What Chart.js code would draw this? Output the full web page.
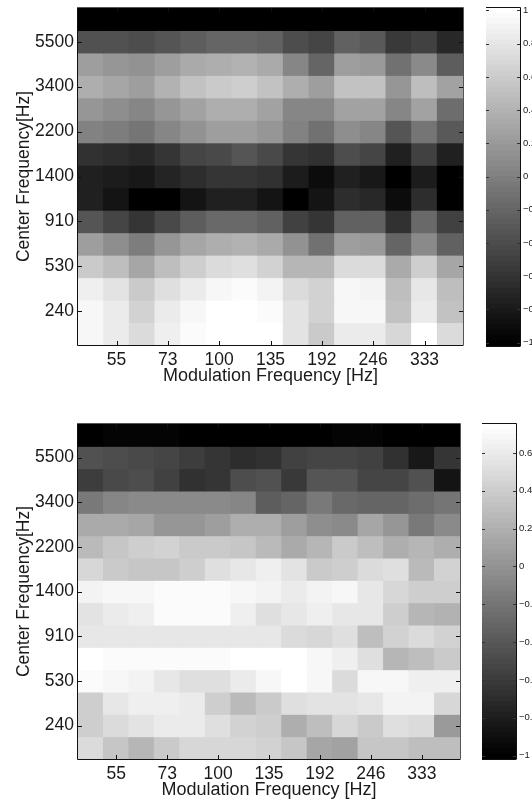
<!DOCTYPE html>
<html>
<head>
<meta charset="utf-8">
<script src="https://cdn.jsdelivr.net/npm/chart.js@4"></script>
<style>
    html, body { margin: 0; padding: 0; background: #fff; overflow: hidden; }
    body { position: relative; width: 532px; height: 799px; }
    canvas { position: absolute; }
</style>
</head>
<body>
<canvas id="topMap" width="480" height="400" style="left:0;top:0"></canvas>
<canvas id="topBar" width="46" height="400" style="left:486px;top:0"></canvas>
<canvas id="bottomMap" width="480" height="401" style="left:0;top:400px"></canvas>
<canvas id="bottomBar" width="50" height="401" style="left:482px;top:400px"></canvas>
<script>
// Modulation frequency labels (one column in two is labelled)
const modLabels = ['', '55', '', '73', '', '100', '', '135', '', '192', '', '246', '', '333', ''];
// Center frequency labels, top to bottom (one row in two is labelled)
const centerLabels = ['', '5500', '', '3400', '', '2200', '', '1400', '', '910', '', '530', '', '240', ''];

const topValues = [
    [-1, -1, -1, -1, -1, -1, -1, -1, -1, -1, -1, -1, -1, -1, -1],
    [-.37, -.37, -.39, -.33, -.28, -.20, -.20, -.23, -.39, -.45, -.25, -.29, -.55, -.47, -.67],
    [.22, .18, .14, .22, .33, .35, .40, .33, .06, -.20, .22, .19, -.10, .08, -.28],
    [.35, .29, .24, .40, .51, .57, .60, .53, .37, .24, .53, .53, .18, .49, .25],
    [.18, .10, .06, .18, .27, .35, .35, .27, .06, .04, .27, .27, .06, .25, -.14],
    [.02, -.02, -.07, .04, .14, .22, .22, .18, .02, -.10, .10, .06, -.33, -.07, -.31],
    [-.61, -.65, -.67, -.57, -.45, -.41, -.33, -.41, -.59, -.61, -.39, -.45, -.75, -.47, -.72],
    [-.73, -.76, -.80, -.70, -.65, -.59, -.57, -.61, -.78, -.89, -.75, -.81, -.98, -.76, -.98],
    [-.75, -.83, -1, -.98, -.83, -.75, -.75, -.83, -1, -.83, -.65, -.67, -.89, -.64, -1],
    [-.33, -.44, -.57, -.41, -.28, -.18, -.18, -.25, -.47, -.57, -.22, -.23, -.62, -.18, -.47],
    [.22, .10, -.02, .16, .29, .35, .40, .32, .14, -.10, .22, .19, -.20, .08, -.25],
    [.57, .49, .29, .49, .61, .69, .73, .65, .43, .41, .69, .69, .33, .61, .29],
    [.87, .76, .57, .74, .82, .92, .94, .88, .69, .63, .92, .88, .47, .79, .49],
    [.91, .82, .65, .82, .92, 1, 1, .95, .77, .63, .91, .91, .53, .84, .53],
    [.91, .82, .69, .87, .96, 1, 1, 1, .77, .57, .82, .82, .68, 1, .69]
];

const bottomValues = [
    [-1, -.97, -.97, -.97, -1, -1, -1, -1, -1, -1, -.97, -.95, -1, -.98, -1],
    [-.45, -.46, -.49, -.51, -.57, -.64, -.69, -.66, -.56, -.52, -.53, -.55, -.67, -.81, -.62],
    [-.57, -.49, -.46, -.56, -.66, -.62, -.48, -.44, -.59, -.42, -.40, -.53, -.53, -.44, -.84],
    [-.16, -.09, -.07, -.07, -.07, -.07, -.09, -.35, -.30, -.16, -.28, -.31, -.29, -.25, -.19],
    [.15, .15, .13, .03, .02, .08, .18, .18, .08, -.03, -.07, .13, .03, -.16, -.07],
    [.27, .36, .41, .43, .39, .39, .34, .27, .15, .25, .37, .30, .18, .24, .18],
    [.45, .39, .36, .36, .41, .51, .56, .62, .55, .37, .40, .48, .51, .27, .43],
    [.65, .67, .67, .70, .72, .72, .69, .66, .59, .66, .67, .58, .45, .41, .41],
    [.54, .61, .63, .70, .70, .70, .62, .51, .58, .63, .58, .58, .41, .24, .22],
    [.56, .56, .56, .56, .56, .56, .56, .56, .48, .45, .51, .29, .43, .50, .43],
    [.75, .72, .72, .70, .72, .72, .75, .75, .75, .67, .63, .52, .25, .30, .37],
    [.72, .67, .65, .58, .52, .52, .61, .69, .75, .67, .48, .68, .68, .62, .63],
    [.41, .56, .62, .62, .61, .41, .26, .37, .52, .55, .55, .56, .66, .66, .45],
    [.41, .50, .55, .59, .59, .52, .44, .41, .20, .30, .45, .39, .52, .48, .06],
    [.48, .34, .24, .37, .45, .45, .45, .43, .35, .13, .10, .36, .34, .29, .30]
];

const topBarTicks = [1, .8, .6, .4, .2, 0, -.2, -.4, -.6, -.8, -1];
const bottomBarTicks = [.6, .4, .2, 0, -.2, -.4, -.6, -.8, -1];

const FONT = 'Liberation Sans, Arial, Helvetica, sans-serif';
const TEXT = '#1a1a1a';
const LEVELS = 64;

// Same as a 64 step gray colormap
function grayFor(value, min, max) {
    const t = (value - min) / (max - min);
    const idx = Math.min(LEVELS - 1, Math.max(0, Math.floor(t * LEVELS)));
    const g = Math.round(idx / (LEVELS - 1) * 255);
    return `rgb(${g},${g},${g})`;
}

// Ticks go inside the box on all sides, Chart.js only draws them outside
const boxPlugin = {
    id: 'boxTicks',
    afterDatasetsDraw(chart, args, opts) {
        const { ctx, chartArea: a } = chart;
        const len = opts.tickLength;
        ctx.save();
        ctx.lineWidth = 1;
        ctx.strokeStyle = opts.tickColor;
        ctx.beginPath();
        const yScale = chart.scales.y;
        yScale.ticks.forEach((t, i) => {
            const y = Math.round(yScale.getPixelForTick(i)) + 0.5;
            ctx.moveTo(a.left, y);
            ctx.lineTo(a.left + len, y);
            ctx.moveTo(a.right - len, y);
            ctx.lineTo(a.right, y);
        });
        if (opts.xTicks) {
            const xScale = chart.scales.x;
            xScale.ticks.forEach((t, i) => {
                if (!t.label) return;
                const x = Math.round(xScale.getPixelForTick(i)) + 0.5;
                ctx.moveTo(x, a.bottom);
                ctx.lineTo(x, a.bottom - len);
                ctx.moveTo(x, a.top);
                ctx.lineTo(x, a.top + len);
            });
        }
        ctx.stroke();
        // Left and bottom sides are darker than top and right
        ctx.strokeStyle = opts.sideColor;
        ctx.beginPath();
        ctx.moveTo(a.left - 0.5, a.top);
        ctx.lineTo(a.left - 0.5, a.bottom + 0.5);
        ctx.lineTo(a.right + 0.5, a.bottom + 0.5);
        ctx.stroke();
        ctx.strokeStyle = opts.topColor;
        ctx.beginPath();
        ctx.moveTo(a.left - 1, a.top - 0.5);
        ctx.lineTo(a.right + 0.5, a.top - 0.5);
        ctx.lineTo(a.right + 0.5, a.bottom);
        ctx.stroke();
        ctx.restore();
    }
};

function heatmap(id, rows, min, max, padding) {
    const datasets = rows.map((row, r) => ({
        data: row.map(() => [r, r + 1]),
        backgroundColor: row.map(v => grayFor(v, min, max)),
        borderWidth: 0,
        inflateAmount: 0.5,
        grouped: false,
        barPercentage: 1,
        categoryPercentage: 1
    }));
    const yTickValues = [];
    centerLabels.forEach((label, r) => { if (label) yTickValues.push(r + 0.5); });
    return new Chart(document.getElementById(id), {
        type: 'bar',
        data: { labels: modLabels, datasets },
        options: {
            responsive: false,
            animation: false,
            layout: { padding },
            plugins: {
                legend: { display: false },
                tooltip: { enabled: false },
                boxTicks: { tickLength: 4, tickColor: '#111', sideColor: '#111', topColor: '#555', xTicks: true }
            },
            scales: {
                x: {
                    grid: { display: false, drawTicks: false },
                    border: { display: false },
                    afterFit(scale) { scale.height = 42; },
                    ticks: {
                        autoSkip: false, maxRotation: 0, padding: 5,
                        color: TEXT, font: { family: FONT, size: 17.5 }
                    },
                    title: {
                        display: true, text: 'Modulation Frequency [Hz]',
                        color: TEXT, font: { family: FONT, size: 18 },
                        padding: { top: 0, bottom: 0 }
                    }
                },
                y: {
                    min: 0, max: rows.length, reverse: true,
                    grid: { display: false, drawTicks: false },
                    border: { display: false },
                    afterBuildTicks(scale) { scale.ticks = yTickValues.map(v => ({ value: v })); },
                    afterFit(scale) {
                        scale.width = 78;
                        // Sin esto la primera etiqueta empuja el area hacia abajo
                        scale.paddingTop = 0;
                        scale.paddingBottom = 0;
                    },
                    ticks: {
                        autoSkip: false, padding: 4,
                        color: TEXT, font: { family: FONT, size: 17.5 },
                        callback: v => centerLabels[Math.floor(v)]
                    },
                    title: {
                        display: true, text: 'Center Frequency[Hz]',
                        color: TEXT, font: { family: FONT, size: 17.5 },
                        padding: { top: 14, bottom: 0 }
                    }
                }
            }
        },
        plugins: [boxPlugin]
    });
}

function colorbar(id, min, max, tickValues, padding, tickWidth) {
    const datasets = [];
    for (let i = 0; i < LEVELS; i++) {
        const lo = min + (max - min) * i / LEVELS;
        const hi = min + (max - min) * (i + 1) / LEVELS;
        const g = Math.round(i / (LEVELS - 1) * 255);
        datasets.push({
            data: [[lo, hi]],
            backgroundColor: `rgb(${g},${g},${g})`,
            borderWidth: 0,
            inflateAmount: 0.5,
            grouped: false,
            barPercentage: 1,
            categoryPercentage: 1
        });
    }
    return new Chart(document.getElementById(id), {
        type: 'bar',
        data: { labels: [''], datasets },
        options: {
            responsive: false,
            animation: false,
            layout: { padding },
            plugins: {
                legend: { display: false },
                tooltip: { enabled: false },
                boxTicks: { tickLength: 3, tickColor: '#333', sideColor: '#111', topColor: '#111', xTicks: false }
            },
            scales: {
                x: { display: false },
                y: {
                    position: 'right',
                    min, max,
                    grid: { display: false, drawTicks: false },
                    border: { display: false },
                    afterBuildTicks(scale) { scale.ticks = tickValues.map(v => ({ value: v })); },
                    afterFit(scale) {
                        scale.width = tickWidth;
                        scale.paddingTop = 0;
                        scale.paddingBottom = 0;
                    },
                    ticks: {
                        autoSkip: false, padding: 3,
                        color: TEXT, font: { family: FONT, size: 9.5 },
                        callback: v => String(v).replace('-', '\u2212')
                    }
                }
            }
        },
        plugins: [boxPlugin]
    });
}

heatmap('topMap', topValues, -1, 1, { left: 0, right: 17, top: 8, bottom: 13 });
colorbar('topBar', -1.02, 1.015, topBarTicks, { left: 0, right: 0, top: 8, bottom: 54 }, 12);
heatmap('bottomMap', bottomValues, -1, 0.75, { left: 0, right: 20, top: 24, bottom: 0 });
colorbar('bottomBar', -1.018, 0.753, bottomBarTicks, { left: 0, right: 0, top: 24, bottom: 42 }, 16);
</script>
</body>
</html>
